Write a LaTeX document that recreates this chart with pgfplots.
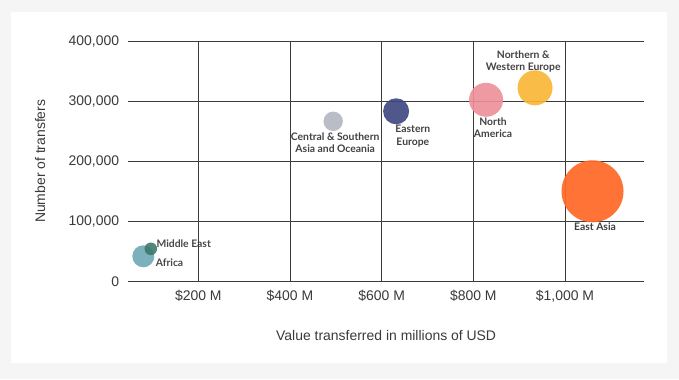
\documentclass[border=0pt]{standalone}
\usepackage{fontspec}
\setmainfont{Liberation Sans}
\newfontfamily\lab{Lato}
\usepackage{pgfplots}
\pgfplotsset{compat=1.18}
\definecolor{bgray}{HTML}{F5F5F5}
\definecolor{gridc}{HTML}{3C3C3C}
\definecolor{textc}{HTML}{3A3A3A}
\definecolor{labc}{HTML}{2E2E2E}
\definecolor{cafr}{HTML}{6AA6B1}
\definecolor{cme}{HTML}{3A786A}
\definecolor{ccsa}{HTML}{B1B6C0}
\definecolor{cee}{HTML}{3D457E}
\definecolor{cna}{HTML}{EE9099}
\definecolor{cnwe}{HTML}{F9B633}
\definecolor{cea}{HTML}{FF6826}
\begin{document}
\begin{tikzpicture}[x=1bp,y=1bp]
\fill[bgray] (0,0) rectangle (679,379);
\fill[white] (11,16) rectangle (667,367);
\begin{axis}[
  at={(128bp,97.7bp)}, anchor=south west,
  scale only axis, width=516.3bp, height=240bp,
  xmin=46.7, xmax=1173, ymin=0, ymax=400000,
  xtick={200,400,600,800,1000},
  xticklabels={{\$200 M},{\$400 M},{\$600 M},{\$800 M},{\$1,000 M}},
  ytick={0,100000,200000,300000,400000},
  yticklabels={0,{100,000},{200,000},{300,000},{400,000}},
  scaled y ticks=false,
  axis line style={draw=none}, major tick style={draw=none},
  grid=major, grid style={gridc, line width=0.9bp},
  ticklabel style={font=\fontsize{14}{16}\selectfont, text=textc, inner sep=0pt},
  yticklabel style={anchor=east, xshift=-8.7bp},
  xticklabel style={anchor=north, yshift=-9bp},
  xlabel={Value transferred in millions of USD},
  ylabel={Number of transfers},
  label style={font=\fontsize{14}{16}\selectfont, text=textc},
  xlabel style={at={(axis description cs:0.5,-0.2279)}, anchor=center},
  ylabel style={at={(axis description cs:-0.1704,0.5)}, anchor=center},
  clip=false,
  every node near coord/.style={font=\lab\bfseries\fontsize{10.4}{12.5}\selectfont, text=labc, inner sep=0pt, align=center},
]
\addplot[only marks, mark=*, mark size=11bp, mark options={draw opacity=0, fill=cafr, fill opacity=0.88},
  nodes near coords={Africa}, every node near coord/.append style={anchor=west, xshift=12.3bp, yshift=-6.7bp}]
  coordinates {(80.1,41667)};
\addplot[only marks, mark=*, mark size=6.3bp, mark options={draw opacity=0, fill=cme, fill opacity=0.88},
  nodes near coords={Middle East}, every node near coord/.append style={anchor=west, xshift=5.5bp, yshift=5bp}]
  coordinates {(96.5,54167)};
\addplot[only marks, mark=*, mark size=9.7bp, mark options={draw opacity=0, fill=ccsa, fill opacity=0.9},
  nodes near coords={Central \& Southern\\Asia and Oceania}, every node near coord/.append style={anchor=north, xshift=2bp, yshift=-11bp}]
  coordinates {(494.3,266667)};
\addplot[only marks, mark=*, mark size=13bp, mark options={draw opacity=0, fill=cee, fill opacity=0.9},
  nodes near coords={Eastern\\Europe}, every node near coord/.append style={anchor=north, xshift=16.7bp, yshift=-14bp}]
  coordinates {(631.6,283333)};
\addplot[only marks, mark=*, mark size=17bp, mark options={draw opacity=0, fill=cna, fill opacity=0.9},
  nodes near coords={North\\America}, every node near coord/.append style={anchor=north, xshift=7bp, yshift=-17.5bp}]
  coordinates {(827.8,302500)};
\addplot[only marks, mark=*, mark size=17.5bp, mark options={draw opacity=0, fill=cnwe, fill opacity=0.9},
  nodes near coords={Northern \&\\Western Europe}, every node near coord/.append style={anchor=south, xshift=-11.8bp, yshift=15bp}]
  coordinates {(934.6,322500)};
\addplot[only marks, mark=*, mark size=31bp, mark options={draw opacity=0, fill=cea, fill opacity=0.92},
  nodes near coords={East Asia}, every node near coord/.append style={anchor=north, xshift=2.5bp, yshift=-31.5bp}]
  coordinates {(1060,150000)};
\end{axis}
\pgfresetboundingbox
\useasboundingbox (0,0) rectangle (679,379);
\end{tikzpicture}
\end{document}
